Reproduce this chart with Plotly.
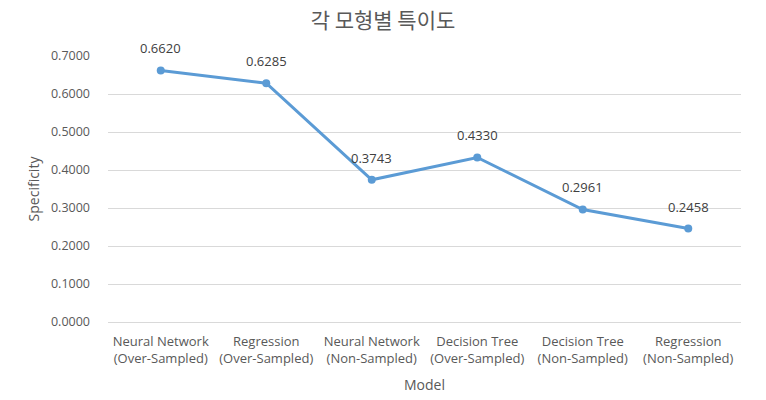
import plotly.graph_objects as go

categories = ["Neural Network<br>(Over-Sampled)", "Regression<br>(Over-Sampled)",
              "Neural Network<br>(Non-Sampled)", "Decision Tree<br>(Over-Sampled)",
              "Decision Tree<br>(Non-Sampled)", "Regression<br>(Non-Sampled)"]
specificity = [0.6620, 0.6285, 0.3743, 0.4330, 0.2961, 0.2458]
y_ticks = [0.0, 0.1, 0.2, 0.3, 0.4, 0.5, 0.6, 0.7]

grey = "#595959"
font_main = "Open Sans, Noto Sans CJK KR, sans-serif"

fig = go.Figure()
fig.add_trace(go.Scatter(
    x=list(range(len(categories))), y=specificity,
    mode="lines+markers",
    line=dict(color="#5B9BD5", width=3),
    marker=dict(color="#5B9BD5", size=8),
    hoverinfo="skip",
))
for i, v in enumerate(specificity):
    fig.add_annotation(x=i, y=v, text=f"{v:.4f}", showarrow=False,
                       yshift=22, font=dict(size=13, color="#404040", family=font_main))

fig.update_layout(
    width=766, height=400,
    margin=dict(l=108, r=25, t=56, b=78),
    paper_bgcolor="white", plot_bgcolor="white",
    showlegend=False,
    title=dict(text="각 모형별 특이도", x=0.5, xanchor="center", y=0.948, yanchor="middle",
               font=dict(size=21, color=grey, family="Noto Sans CJK KR, sans-serif")),
    font=dict(family=font_main, color=grey, size=13),
)
fig.update_xaxes(
    tickmode="array", tickvals=list(range(len(categories))), ticktext=categories,
    range=[-0.5, 5.5], showgrid=False, zeroline=False, automargin=False,
    showline=False, ticks="", ticklabelstandoff=10, tickfont=dict(size=13, color=grey),
    title=dict(text="Model", font=dict(size=14, color=grey), standoff=14),
)
fig.update_yaxes(
    range=[0, 0.7], tickmode="array", tickvals=y_ticks,
    ticktext=[f"{t:.4f}" for t in y_ticks], automargin=False,
    showgrid=True, gridcolor="#D9D9D9", gridwidth=1,
    zeroline=True, zerolinecolor="#D9D9D9", zerolinewidth=1,
    showline=False, ticks="", ticklabelstandoff=17,
    tickfont=dict(size=12.5, color=grey),
    title=dict(text="Specificity", font=dict(size=14, color=grey), standoff=8),
)

fig.write_html("out.html")
